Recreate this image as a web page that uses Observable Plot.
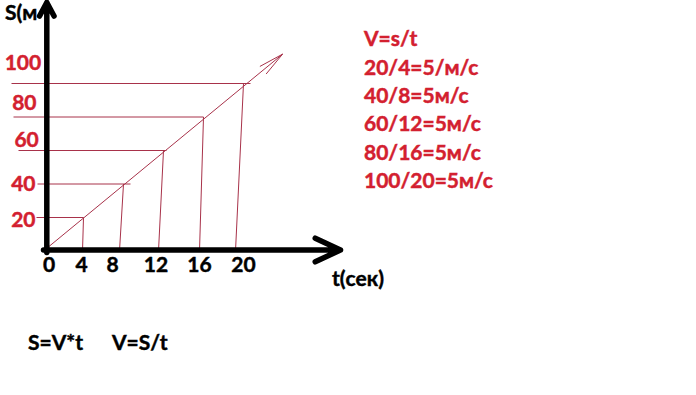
<!DOCTYPE html>
<html><head><meta charset="utf-8">
<script src="https://cdn.jsdelivr.net/npm/d3@7"></script>
<script src="https://cdn.jsdelivr.net/npm/@observablehq/plot@0.6"></script>
<style>
html,body{margin:0;padding:0;background:#fff;}
#wrap{position:relative;width:696px;height:395px;overflow:hidden;font-family:Lato,"Open Sans",sans-serif;font-weight:700;font-size:21px;line-height:21px;}
#wrap svg{position:absolute;left:0;top:0;}
.lbl{position:absolute;white-space:pre;margin:0;-webkit-text-stroke:0.45px currentColor;}
</style></head><body><div id="wrap"></div>
<script>
// ---- data ----
const tTicks = [0, 4, 8, 12, 16, 20];            // t (сек) tick labels
const sTicks = [20, 40, 60, 80, 100];            // S (м) tick labels
const pointT = [4, 8, 12, 16, 20];               // marked times
const pointS = [20, 40, 60, 80, 100];            // marked distances
const dropBaseT = [3.9, 7.6, 11.5, 15.6, 19.2];  // hand-drawn foot of each vertical guide
const guideLeftT = [-0.7, -0.6, -2.5, -3.0, -3.2];
const guideRightT = [4.0, 8.7, 12.3, 16.0, 20.7];
const motionT = [0, 23.9];                       // S(t) line
const motionS = [0, 117.5];
const axisEndT = 29.7;
const axisEndS = 148.4;
const yTitle = "S(м";
const xTitle = "t(сек)";
const formulas = ["V=s/t", "20/4=5/м/с", "40/8=5м/с", "60/12=5м/с", "80/16=5м/с", "100/20=5м/с"];
const footA = "S=V*t";
const footB = "V=S/t";

// ---- styles ----
const RED = "#d3202f";
const LINE = "#a8324a";
const FONT = "Lato, 'Open Sans', sans-serif";
const xLabelDx = [5.5, -2, -11, -7.5, -4, 0];
const yLabelDx = [-8, -8, -4.7, -7, -2.3];
const yLabelDy = [9.7, 6.5, -3.3, -7.5, -13.4];

const guides = pointS.map((s, i) => ({s, t0: guideLeftT[i], t1: guideRightT[i]}));
const drops = pointT.map((t, i) => ({tb: dropBaseT[i], t, s: pointS[i]}));
const motion = [{t0: motionT[0], s0: motionS[0], t1: motionT[1], s1: motionS[1]}];

const marks = [
  Plot.link(guides, {x1: "t0", x2: "t1", y1: "s", y2: "s", stroke: LINE, strokeWidth: 1}),
  Plot.link(drops, {x1: "tb", y1: () => 0, x2: "t", y2: "s", stroke: LINE, strokeWidth: 1}),
  Plot.arrow(motion, {x1: "t0", y1: "s0", x2: "t1", y2: "s1", stroke: LINE, strokeWidth: 1, headAngle: 22, headLength: 38}),
  Plot.arrow([{a: 0, b: axisEndT}], {x1: "a", x2: "b", y1: () => 0, y2: () => 0, dy: -1,
    stroke: "#000", strokeWidth: 5.5, headAngle: 50, headLength: 7.6, strokeLinejoin: "round"}),
  Plot.arrow([{a: -0.9, b: axisEndS}], {x1: () => 0, x2: () => 0, y1: "a", y2: "b", dx: 3.3,
    stroke: "#000", strokeWidth: 5.5, headAngle: 56, headLength: 4.2, strokeLinejoin: "round"}),
  ...tTicks.map((t, i) => Plot.text([t], {x: d => d, text: d => String(d), frameAnchor: "bottom",
    lineAnchor: "bottom", dy: 20.5, dx: xLabelDx[i], fill: "#000", stroke: "#000", strokeWidth: 0.45,
    fontSize: 21, fontWeight: "bold", fontFamily: FONT})),
  ...sTicks.map((s, i) => Plot.text([s], {y: d => d, text: d => String(d), frameAnchor: "left",
    textAnchor: "end", lineAnchor: "bottom", dx: yLabelDx[i], dy: yLabelDy[i], fill: RED, stroke: RED, strokeWidth: 0.45,
    fontSize: 21, fontWeight: "bold", fontFamily: FONT}))
];

const chart = Plot.plot({
  width: 696, height: 395,
  marginLeft: 43, marginRight: 353, marginTop: 0.925, marginBottom: 144.5,
  x: {domain: [0, 30], axis: null},
  y: {domain: [0, 149], axis: null},
  style: {background: "#fff", overflow: "visible"},
  marks
});
const wrap = document.getElementById("wrap");
wrap.appendChild(chart);

function label(text, left, baseline, color, lh) {
  const el = document.createElement("div");
  el.className = "lbl";
  el.textContent = text;
  const lineH = lh || 21;
  el.style.left = left + "px";
  el.style.lineHeight = lineH + "px";
  el.style.top = (baseline - ((lineH - 25.2) / 2 + 20.73)) + "px";
  el.style.color = color;
  wrap.appendChild(el);
  return el;
}
label(yTitle, 5, 20, "#000");
label(xTitle, 332, 286, "#000");
label(formulas.join("\n"), 364, 46.5, RED, 28.4);
label(footA, 28, 350, "#000");
label(footB, 112, 350, "#000");
</script></body></html>
